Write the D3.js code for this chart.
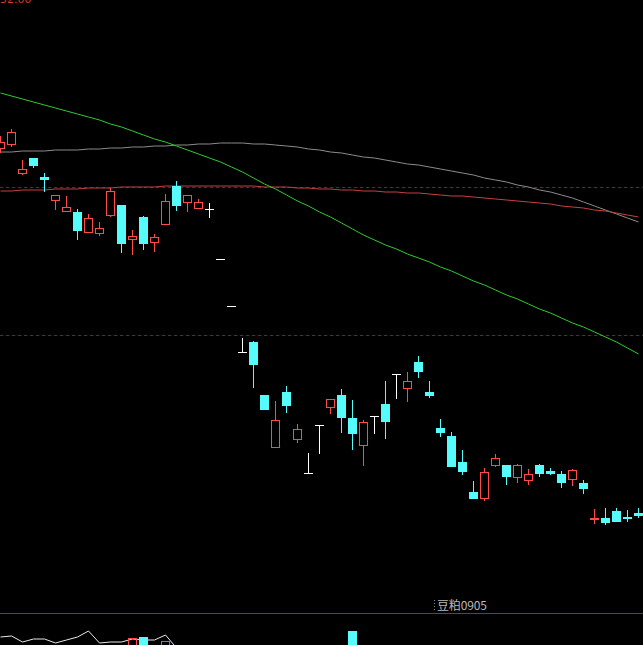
<!DOCTYPE html>
<html><head><meta charset="utf-8">
<script src="https://cdn.jsdelivr.net/npm/d3@7"></script>
<style>html,body{margin:0;padding:0;background:#000;overflow:hidden}</style>
</head><body>
<svg id="c" width="643" height="645"></svg>
<script>
// Main candles (open, high, low, close)
const opens  = [3374,3382,3324,3354,3316,3270,3248,3246,3206,3204,3240,3260,3192,3236,3186,3222,3298,3266,3254,3252,3152,3058,2966,2986,2880,2776,2886,2792,2724,2820,2856,2880,2834,2780,2838,2862,2922,2894,2946,2886,2814,2798,2746,2686,2674,2740,2740,2716,2710,2740,2728,2722,2712,2704,2633,2634,2648,2637,2644];
const closes = [3386,3406,3332,3338,3310,3280,3256,3208,3234,3214,3288,3182,3198,3182,3196,3268,3258,3280,3266,3252,3152,3058,2966,2940,2850,2830,2858,2812,2724,2820,2872,2834,2802,2826,2838,2826,2922,2908,2926,2878,2804,2736,2726,2672,2726,2754,2716,2740,2722,2722,2722,2704,2730,2692,2635,2624,2626,2633,2638];
const highs  = [3398,3412,3350,3354,3324,3280,3278,3252,3242,3226,3294,3260,3210,3238,3202,3282,3308,3280,3272,3264,3152,3058,2994,2988,2880,2868,2898,2822,2764,2820,2872,2892,2870,2830,2838,2908,2922,2926,2958,2908,2832,2806,2770,2708,2734,2762,2740,2742,2732,2742,2734,2728,2732,2710,2652,2654,2654,2650,2654];
const lows   = [3364,3376,3320,3334,3286,3250,3248,3190,3206,3198,3236,3164,3160,3170,3166,3222,3248,3246,3252,3236,3152,3058,2966,2894,2850,2776,2844,2784,2724,2764,2842,2804,2770,2738,2804,2792,2874,2866,2914,2874,2796,2736,2720,2672,2668,2736,2700,2704,2700,2716,2720,2694,2698,2682,2622,2620,2626,2626,2634];
// Moving averages
const maGreen = [3484,3478,3472,3466,3460,3454,3448,3442,3436,3430,3422,3416,3408,3400,3392,3386,3378,3370,3362,3354,3346,3336,3326,3314,3302,3292,3280,3268,3258,3246,3236,3224,3212,3200,3190,3180,3172,3162,3154,3146,3136,3128,3118,3108,3100,3090,3080,3072,3062,3052,3044,3034,3024,3016,3006,2996,2986,2974,2962];
const maGray  = [3366,3366,3368,3368,3368,3370,3370,3370,3372,3372,3374,3374,3376,3376,3378,3378,3380,3380,3382,3382,3384,3384,3384,3382,3382,3380,3378,3376,3372,3370,3366,3364,3360,3356,3354,3350,3346,3342,3340,3336,3332,3328,3324,3320,3314,3310,3306,3300,3296,3290,3286,3280,3274,3266,3258,3250,3242,3234,3226];
const maRed   = [3288,3288,3290,3290,3290,3292,3292,3292,3294,3294,3294,3296,3296,3296,3296,3298,3298,3298,3298,3298,3298,3298,3298,3298,3296,3296,3296,3294,3294,3292,3292,3290,3290,3288,3288,3286,3286,3284,3284,3282,3280,3278,3278,3276,3274,3272,3270,3268,3266,3264,3262,3258,3256,3254,3250,3248,3244,3240,3236];
const gridLevels = [3296, 3000];
const topLabel = "52.00";
const symbolLabel = "豆粕0905";
// Lower panel (cut off at the bottom)
const subLine = [23,24,18,21,21,17,20,23,29,17,18,18,21,20,20,25,12];
const subBarIdx = [12,13,15,32];
const subBarTop = [22,23,19,29];
const subBarUp  = [true,false,true,false];

const W = 643, H = 645;
const svg = d3.select("#c");
svg.append("rect").attr("width",W).attr("height",H).attr("fill","#000");

const x = d3.scaleLinear().domain([0,58]).range([0.5,638.5]);
const y = d3.scaleLinear().domain([2380,3670]).range([645,0]);
const ys = d3.scaleLinear().domain([0,60]).range([660,600]);

const RED = "#ff4a4a", CYAN = "#54fcfc", WHITE = "#ffffff";

// grid dashed
svg.selectAll("line.grid").data(gridLevels).enter().append("line")
  .attr("x1",0).attr("x2",W)
  .attr("y1",d=>Math.round(y(d))+0.5).attr("y2",d=>Math.round(y(d))+0.5)
  .attr("stroke","#8a1a1a").attr("stroke-width",1).attr("stroke-dasharray","3,3");

// MA lines
const line = d3.line().x((d,i)=>x(i)).y(d=>y(d));
[[maGray,"#8c8c8c"],[maRed,"#c84040"],[maGreen,"#2ecc2e"]].forEach(([arr,col])=>{
  svg.append("path").datum(arr).attr("d",line).attr("fill","none").attr("stroke",col).attr("stroke-width",1);
});

// candles
const idx = d3.range(opens.length);
const g = svg.append("g");
idx.forEach(i=>{
  const o=opens[i], c=closes[i], h=highs[i], l=lows[i];
  const cx = x(i);
  const left = Math.round(cx-4.5);
  const col = c>o ? RED : (c<o ? CYAN : WHITE);
  const yTop = Math.round(y(Math.max(o,c))), yBot = Math.round(y(Math.min(o,c)));
  const yH = Math.round(y(h)), yL = Math.round(y(l));
  if (c>o) {
    if (yH < yTop) g.append("line").attr("x1",cx).attr("x2",cx).attr("y1",yH).attr("y2",yTop).attr("stroke",col);
    if (yL > yBot) g.append("line").attr("x1",cx).attr("x2",cx).attr("y1",yBot).attr("y2",yL).attr("stroke",col);
    g.append("rect").attr("x",left+0.5).attr("y",yTop+0.5).attr("width",8).attr("height",Math.max(0,yBot-yTop))
      .attr("fill","none").attr("stroke",col).attr("stroke-width",1);
  } else if (c<o) {
    g.append("line").attr("x1",cx).attr("x2",cx).attr("y1",yH).attr("y2",yL).attr("stroke",col);
    g.append("rect").attr("x",left).attr("y",yTop).attr("width",9).attr("height",Math.max(1,yBot-yTop)).attr("fill",col);
  } else {
    g.append("line").attr("x1",cx).attr("x2",cx).attr("y1",yH).attr("y2",yL+1).attr("stroke",col);
    g.append("line").attr("x1",left).attr("x2",left+9).attr("y1",yTop+0.5).attr("y2",yTop+0.5).attr("stroke",col);
  }
});

// top label
svg.append("text").attr("x",0).attr("y",3).attr("fill","#d03a3a")
  .attr("font-family","DejaVu Sans, sans-serif").attr("font-size",11).text(topLabel);

// separator
svg.append("line").attr("x1",0).attr("x2",W).attr("y1",613.5).attr("y2",613.5).attr("stroke","#b02020");
svg.append("line").attr("x1",434.5).attr("x2",434.5).attr("y1",600).attr("y2",612).attr("stroke","#888").attr("stroke-dasharray","1,2");
svg.append("text").attr("x",437).attr("y",610).attr("fill","#b8b8b8")
  .attr("font-family","Noto Sans CJK SC, sans-serif").attr("font-size",12).attr("textLength",50).text(symbolLabel);

// lower panel
const sub = svg.append("g");
sub.append("path").datum(subLine).attr("d",d3.line().x((d,i)=>x(i)).y(d=>ys(d)))
  .attr("fill","none").attr("stroke","#e8e8e8").attr("stroke-width",1);
subBarIdx.forEach((bi,k)=>{
  const cx = x(bi), left = Math.round(cx-4.5), top = Math.round(ys(subBarTop[k]));
  if (subBarUp[k]) {
    sub.append("rect").attr("x",left+0.5).attr("y",top+0.5).attr("width",8).attr("height",20)
      .attr("fill","none").attr("stroke",RED);
  } else {
    sub.append("rect").attr("x",left).attr("y",top).attr("width",9).attr("height",20).attr("fill",CYAN);
  }
});
</script>
</body></html>
